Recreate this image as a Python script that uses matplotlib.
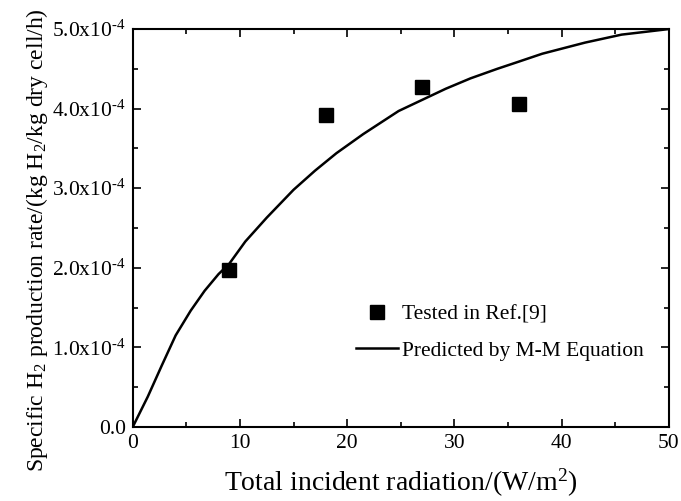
import matplotlib

matplotlib.use('agg')
import matplotlib.pyplot as plt
import matplotlib.ticker
from matplotlib import rcParams

# measured points (Ref.[9])
tested_x = [9, 18, 27, 36]
tested_y = [1.97e-4, 3.92e-4, 4.27e-4, 4.06e-4]

# M-M curve
mm_x = [0, 1.4, 2.7, 4.0, 5.4, 6.7, 8.0, 9.0, 10.5, 12.5, 15.0, 17.0, 19.0, 21.5,
        24.8, 27.0, 29.2, 31.5, 34.0, 36.0, 38.2, 42.2, 45.6, 47.5, 50]
mm_y = [0, 0.38, 0.77, 1.15, 1.46, 1.71, 1.92, 2.05, 2.33, 2.63, 2.98, 3.22, 3.44, 3.68,
        3.97, 4.11, 4.25, 4.38, 4.50, 4.59, 4.69, 4.83, 4.93, 4.96, 5.0]
mm_y = [v * 1e-4 for v in mm_y]

y_ticks = [0, 1e-4, 2e-4, 3e-4, 4e-4, 5e-4]
y_tick_labels = ["0.0", r"1.0x10$^{\text{-}4}$", r"2.0x10$^{\text{-}4}$", r"3.0x10$^{\text{-}4}$",
                 r"4.0x10$^{\text{-}4}$", r"5.0x10$^{\text{-}4}$"]

rcParams['font.family'] = ['Liberation Serif']
rcParams['mathtext.fontset'] = 'custom'
rcParams['mathtext.rm'] = 'Liberation Serif'
rcParams['mathtext.it'] = 'Liberation Serif'
rcParams['mathtext.default'] = 'regular'

fig = plt.figure(figsize=(6.81, 5.01), dpi=100)
axis = fig.add_axes([0.195, 0.148, 0.787, 0.794])

axis.plot(mm_x, mm_y, color="black", linewidth=1.8, label="Predicted by M-M Equation")
axis.plot(tested_x, tested_y, linestyle="none", marker="s", markersize=10,
          color="black", label="Tested in Ref.[9]")

axis.set_xlim(0, 50)
axis.set_ylim(0, 5e-4)
axis.set_xticks([0, 10, 20, 30, 40, 50])
axis.set_yticks(y_ticks)
axis.set_yticklabels(y_tick_labels)
axis.xaxis.set_minor_locator(matplotlib.ticker.MultipleLocator(5))
axis.yaxis.set_minor_locator(matplotlib.ticker.MultipleLocator(0.5e-4))

axis.tick_params(which="both", direction="in", top=True, right=True, labelsize=15.5, width=1.2)
axis.tick_params(which="major", length=6, pad=5)
axis.tick_params(which="minor", length=3.5)
for spine in axis.spines.values():
    spine.set_linewidth(1.5)

axis.set_xlabel("Total incident radiation/(W/m$^2$)", fontsize=20, labelpad=10)
axis.set_ylabel("Specific H$_2$ production rate/(kg H$_2$/kg dry cell/h)", fontsize=17, labelpad=2)
axis.yaxis.label.set_y(0.47)

handles, labels = axis.get_legend_handles_labels()
order = [1, 0]
axis.legend([handles[idx] for idx in order], [labels[idx] for idx in order],
            loc="upper left", bbox_to_anchor=(0.416, 0.307), frameon=False, fontsize=15.5,
            handlelength=1.95, handletextpad=0.2, labelspacing=0.75, borderpad=0, borderaxespad=0)

plt.savefig("out.png", dpi=100)
